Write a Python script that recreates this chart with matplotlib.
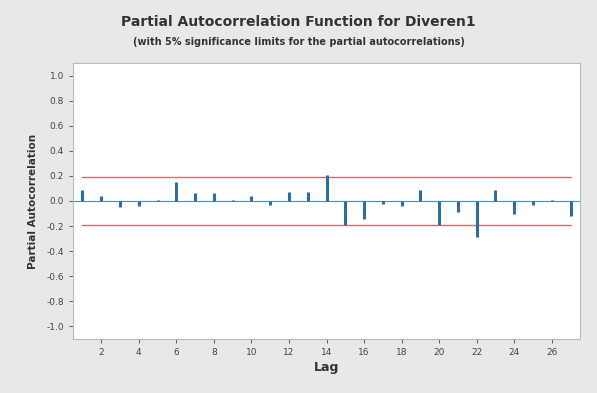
import matplotlib
matplotlib.use('Agg')
import numpy as np
import matplotlib.pyplot as plt

lags = list(range(1, 28))
pacf = [0.09, 0.04, -0.05, -0.04, 0.01, 0.15, 0.06, 0.06, 0.005, 0.04,
        -0.03, 0.07, 0.07, 0.21, -0.19, -0.145, -0.02, -0.04, 0.09, -0.19,
        -0.09, -0.29, 0.09, -0.10, -0.035, 0.01, -0.12]
sig_limit = 0.195
xticks = list(range(2, 27, 2))
yticks = [-1.0, -0.8, -0.6, -0.4, -0.2, 0.0, 0.2, 0.4, 0.6, 0.8, 1.0]

bg = '#e8e8e8'
fig = plt.figure(figsize=(5.97, 3.93), dpi=100, facecolor=bg)
ax = fig.add_axes([73/597, 1 - 339/393, 507/597, 276/393])
ax.set_facecolor('white')

ax.axhline(0, color='#4a90c8', lw=0.8, zorder=1)
ax.plot([lags[0], lags[-1]], [sig_limit, sig_limit], color='#c0504d', lw=1.0, alpha=0.8)
ax.plot([lags[0], lags[-1]], [-sig_limit, -sig_limit], color='#c0504d', lw=1.0, alpha=0.8)
ax.vlines(lags, 0, pacf, color='#2e6da4', lw=2.2, zorder=3)

ax.set_xlim(0.5, 27.5)
ax.set_ylim(-1.1, 1.1)
ax.set_xticks(xticks)
ax.set_yticks(yticks)
ax.set_yticklabels(['%.1f' % v for v in yticks])
ax.tick_params(labelsize=6.5, colors='#444444', length=3, width=0.6)
for s in ax.spines.values():
    s.set_color('#bbbbbb')
    s.set_linewidth(0.8)

ax.set_xlabel('Lag', fontsize=9, fontweight='bold', color='#333333', labelpad=3)
ax.set_ylabel('Partial Autocorrelation', fontsize=7.5, fontweight='bold', color='#333333', labelpad=6)

fig.text(0.5, 0.935, 'Partial Autocorrelation Function for Diveren1', ha='center',
         fontsize=10, fontweight='bold', color='#333333')
fig.text(0.5, 0.885, '(with 5% significance limits for the partial autocorrelations)', ha='center',
         fontsize=7, color='#333333', fontweight='bold')

fig.savefig('out.png', dpi=100, facecolor=bg)
